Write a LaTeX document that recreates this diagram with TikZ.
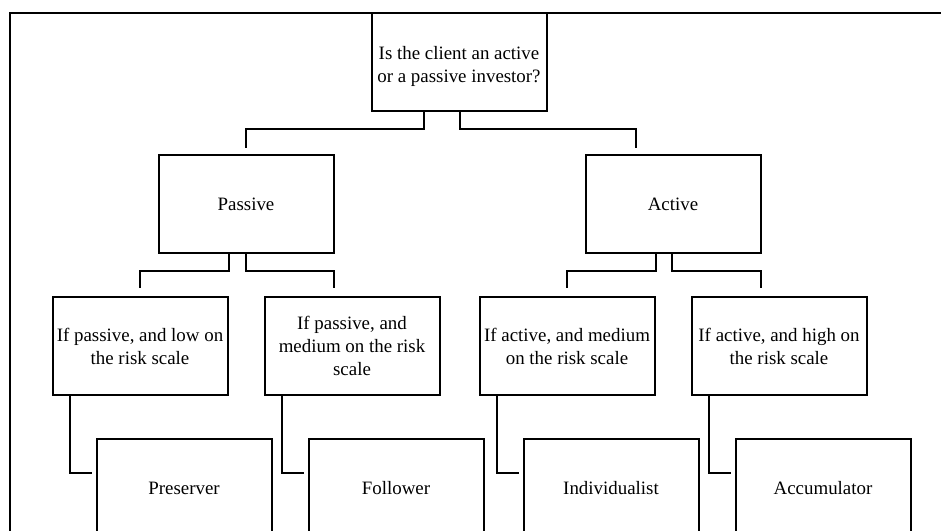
\documentclass[tikz,border=0pt]{standalone}
\usepackage{fontspec}
\setmainfont{Liberation Serif}
\usetikzlibrary{positioning}

\begin{document}
\begin{tikzpicture}[x=1pt,y=1pt,line width=2pt,
  box/.style={draw,rectangle,minimum width=175pt,minimum height=98pt,inner sep=1pt,align=center,
    font=\fontsize{18.9}{23}\selectfont},
  node distance=42pt]
\useasboundingbox (0,0) rectangle (941,-530);
\clip (0,0) rectangle (941,-530);
\draw (10,-13) rectangle (990,-600);
\node[box] (top) at (459,-62) {\mbox{}\\Is the client an active\\or a passive investor?};
\node[box,below left=42pt and 36pt of top] (pas) {Passive};
\node[box,below right=42pt and 37pt of top] (act) {Active};
\node[box,below=of pas,xshift=-106pt] (pl) {If passive, and low on\\the risk scale};
\node[box,below=of pas,xshift=106pt] (pm) {If passive, and\\medium on the risk\\scale};
\node[box,below=of act,xshift=-106pt] (am) {If active, and medium\\on the risk scale};
\node[box,below=of act,xshift=106pt] (ah) {If active, and high on\\the risk scale};
\node[box,below=of pl,xshift=44pt] (pres) {Preserver};
\node[box,below=of pm,xshift=44pt] (foll) {Follower};
\node[box,below=of am,xshift=44pt] (indiv) {Individualist};
\node[box,below=of ah,xshift=44pt] (accu) {Accumulator};
\draw ([xshift=-35pt]top.south) -- ++(0,-17) -| ([yshift=6pt]pas.north);
\draw ([xshift=1pt]top.south) -- ++(0,-17) -| ([xshift=-37.5pt,yshift=6pt]act.north);
\draw ([xshift=-17.5pt]pas.south) -- ++(0,-17) -| ([yshift=8pt]pl.north);
\draw (pas.south) -- ++(0,-17) -| ([xshift=-18.5pt,yshift=8pt]pm.north);
\draw ([xshift=-17.5pt]act.south) -- ++(0,-17) -| ([yshift=8pt]am.north);
\draw ([xshift=-1.5pt]act.south) -- ++(0,-17) -| ([xshift=-18.5pt,yshift=8pt]ah.north);
\draw ([xshift=18pt]pl.south west) |- ([xshift=-4pt,yshift=15pt]pres.west);
\draw ([xshift=18pt]pm.south west) |- ([xshift=-4pt,yshift=15pt]foll.west);
\draw ([xshift=18pt]am.south west) |- ([xshift=-4pt,yshift=15pt]indiv.west);
\draw ([xshift=18pt]ah.south west) |- ([xshift=-4pt,yshift=15pt]accu.west);
\end{tikzpicture}
\end{document}
